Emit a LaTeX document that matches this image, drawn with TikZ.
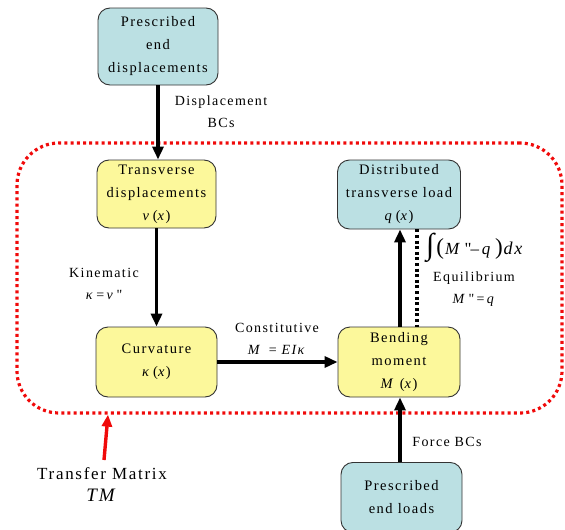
\documentclass[tikz,border=0pt]{standalone}
\usepackage{fontspec}
\setmainfont{Liberation Serif}[LetterSpace=10]
\newfontfamily\qf{Liberation Serif}[LetterSpace=10]
\usetikzlibrary{arrows.meta}
\definecolor{boxblue}{RGB}{187,224,227}
\definecolor{boxyellow}{RGB}{252,248,155}
\definecolor{dotred}{RGB}{240,10,10}
\newcommand{\dq}{{\qf\upshape"}}
\tikzset{
  base/.style={draw=black!80, line width=0.9pt, rounded corners=12pt, align=center,
    inner sep=0pt, font=\fontsize{14.5}{23}\selectfont},
  bluebox/.style={base, fill=boxblue},
  yelbox/.style={base, fill=boxyellow},
  conn/.style={line width=3.4pt, -{Triangle[length=13pt,width=11pt]}},
  lbl/.style={align=center, font=\fontsize{14}{22}\selectfont, inner sep=0pt},
}
\begin{document}
\begin{tikzpicture}[x=1pt,y=-1pt]
\useasboundingbox (0,0) rectangle (565,530);
% boxes
\node[bluebox, minimum width=120pt, minimum height=77pt] (pd) at (158,46.5) {Prescribed\\end\\displacements};
\node[yelbox, minimum width=119pt, minimum height=68pt] (td) at (156.5,194) {Transverse\\displacements\\\textit{v}\,(\textit{x})};
\node[bluebox, minimum width=123pt, minimum height=69pt] (dl) at (399,194.5) {Distributed\\transverse load\\\textit{q}\,(\textit{x})};
\node[yelbox, minimum width=121pt, minimum height=70pt] (cv) at (156.5,362) {Curvature\\\textit{κ}\,(\textit{x})};
\node[yelbox, minimum width=122pt, minimum height=70pt] (bm) at (399,362) {Bending\\moment\\\textit{M} (\textit{x})};
\node[bluebox, minimum width=121pt, minimum height=70pt, anchor=north] (el) at (401.5,462) {Prescribed\\end loads};
% red dotted frame
\node[draw=dotred, line width=3.2pt, dash pattern=on 3pt off 3.2pt, rounded corners=42pt,
  minimum width=545pt, minimum height=270pt, inner sep=0pt] (tm) at (289.5,278) {};
% connectors
\draw[conn] (pd.south -| 158,0) -- (td.north -| 158,0);
\draw[conn] (td.south) -- (cv.north);
\draw[conn] (cv.east) -- (bm.west);
\draw[conn] (bm.north -| 400,0) -- (dl.south -| 400,0);
\draw[line width=3.2pt, dash pattern=on 3pt off 2.6pt] (dl.south -| 417,0) -- (bm.north -| 417,0);
\draw[conn] (el.north -| 400,0) -- (bm.south -| 400,0);
\coordinate (tmtail) at (104,460);
\draw[draw=dotred, line width=3.4pt, -{Triangle[length=12pt,width=10pt]}] (tmtail) -- (tm.south -| 108,0);
% labels
\node[lbl] (l1) at (221,111.5) {Displacement\\BCs};
\node[lbl] (l2) at (104,284) {Kinematic\\\textit{κ}\,=\,\textit{v}\,\dq};
\node[lbl] (l3) at (277,338.5) {Constitutive\\\textit{M}\, = \textit{EIκ}};
\node[lbl, anchor=west] (l4) at (426,248) {\fontsize{30}{30}\selectfont ∫\kern2pt\fontsize{23}{23}\selectfont(\kern1pt\fontsize{17}{18}\selectfont\textit{M}\,\dq\kern-1pt–\,\textit{q}\kern3pt\fontsize{23}{23}\selectfont)\kern1pt\fontsize{18}{18}\selectfont\textit{dx}};
\node[lbl] (l5) at (474,289) {Equilibrium\\\textit{M}\,\dq\,=\,\textit{q}};
\node[lbl] (l6) at (447,442) {Force BCs};
\node[lbl] (l7) at (102,484.5) {\fontsize{17}{25}\selectfont Transfer Matrix\\\fontsize{19}{25}\selectfont\textit{TM}};
\end{tikzpicture}
\end{document}
